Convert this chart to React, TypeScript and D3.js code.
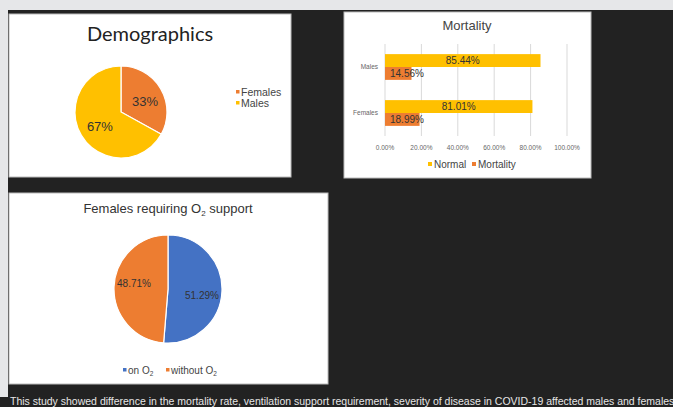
import React from 'react'
import * as d3 from 'd3'

// Demographics pie
const demoLabels = ['Females', 'Males']
const demoValues = [33, 67]

// Mortality bars
const mortCategories = ['Males', 'Females']
const mortSeries = ['Normal', 'Mortality']
const normalValues = [85.44, 81.01]
const mortalityValues = [14.56, 18.99]
const mortTicks = [0, 20, 40, 60, 80, 100]

// O2 support pie
const o2Labels = ['on O', 'without O']
const o2Values = [51.29, 48.71]

const caption =
  'This study showed difference in the mortality rate, ventilation support requirement, severity of disease in COVID-19 affected males and females'

const ORANGE = '#ED7D31'
const GOLD = '#FFC000'
const BLUE = '#4472C4'
const SANS = '"Liberation Sans", Arial, sans-serif'

const App: React.FC = () => {
  // --- pie 1
  const demoPie = d3.pie<number>().sort(null).value(d => d)(demoValues)
  const demoArc = d3.arc<d3.PieArcDatum<number>>().innerRadius(0).outerRadius(46)
  const demoLabelArc = d3.arc<d3.PieArcDatum<number>>().innerRadius(28).outerRadius(28)
  const demoColor = d3.scaleOrdinal<string, string>().domain(demoLabels).range([ORANGE, GOLD])

  // --- bars
  const x = d3.scaleLinear().domain([0, 100]).range([385, 567])
  const y = d3.scaleBand().domain(mortCategories).range([44, 136]).paddingInner(0.44).paddingOuter(0.22)
  const ySub = d3.scaleBand().domain(mortSeries).range([0, y.bandwidth()])
  const seriesColor = d3.scaleOrdinal<string, string>().domain(mortSeries).range([GOLD, ORANGE])
  const rows = mortCategories.map((c, i) => ({ cat: c, Normal: normalValues[i], Mortality: mortalityValues[i] }))

  // --- pie 2
  const o2Pie = d3.pie<number>().sort(null).value(d => d)(o2Values)
  const o2Arc = d3.arc<d3.PieArcDatum<number>>().innerRadius(0).outerRadius(54)
  const o2LabelArc = d3.arc<d3.PieArcDatum<number>>().innerRadius(34).outerRadius(34)
  const o2Color = d3.scaleOrdinal<string, string>().domain(o2Labels).range([BLUE, ORANGE])

  return (
    <svg
      width={673}
      height={407}
      style={{ position: 'absolute', left: 0, top: 0, display: 'block' }}
      fontFamily={SANS}
    >
      <rect x={0} y={0} width={673} height={407} fill="#222222" />
      <rect x={0} y={0} width={673} height={10} fill="#e6e7e9" />
      <rect x={0} y={0} width={8} height={397} fill="#e6e7e9" />

      {/* Demographics */}
      <rect x={9} y={14} width={282} height={163} fill="#fff" stroke="#bbb" strokeWidth={1} />
      <text x={150} y={41} textAnchor="middle" fontFamily="Lato, sans-serif" fontSize={20} fill="#222">
        Demographics
      </text>
      <g transform="translate(121,112)">
        {demoPie.map((d, i) => (
          <path key={i} d={demoArc(d) || ''} fill={demoColor(demoLabels[i])} stroke="#fff" strokeWidth={1.2} />
        ))}
        {demoPie.map((d, i) => {
          const [cx, cy] = demoLabelArc.centroid(d)
          return (
            <text key={i} x={cx + (i === 0 ? 0 : 3)} y={cy + (i === 0 ? 4 : 0)} textAnchor="middle" dominantBaseline="central" fontSize={13} fill="#333">
              {demoValues[i]}%
            </text>
          )
        })}
      </g>
      {demoLabels.map((l, i) => (
        <g key={l} transform={`translate(236,${92 + i * 11})`}>
          <rect x={0} y={-2} width={3.5} height={3.5} fill={demoColor(l)} />
          <text x={5} y={0} dominantBaseline="central" fontSize={10.5} fill="#444">{l}</text>
        </g>
      ))}

      {/* Mortality */}
      <rect x={344} y={12} width={247} height={166} fill="#fff" stroke="#bbb" strokeWidth={1} />
      <text x={467} y={30} textAnchor="middle" fontSize={13} fill="#444">Mortality</text>
      {mortTicks.map(t => (
        <g key={t}>
          <line x1={x(t)} x2={x(t)} y1={44} y2={136} stroke="#d9d9d9" strokeWidth={1} />
          <text x={x(t)} y={147} textAnchor="middle" dominantBaseline="central" fontSize={6.5} fill="#666">
            {t.toFixed(2)}%
          </text>
        </g>
      ))}
      {rows.map(r => (
        <g key={r.cat} transform={`translate(0,${y(r.cat)})`}>
          <text x={378} y={y.bandwidth() / 2} textAnchor="end" dominantBaseline="central" fontSize={6.5} fill="#666">
            {r.cat}
          </text>
          {mortSeries.map(s => {
            const v = (r as any)[s] as number
            const by = ySub(s) || 0
            return (
              <g key={s}>
                <rect x={x(0)} y={by} width={x(v) - x(0)} height={ySub.bandwidth()} fill={seriesColor(s)} />
                <text
                  x={s === 'Normal' ? (x(0) + x(v)) / 2 : x(0) + 5}
                  y={by + ySub.bandwidth() / 2}
                  textAnchor={s === 'Normal' ? 'middle' : 'start'}
                  dominantBaseline="central"
                  fontSize={10}
                  fill="#333"
                >
                  {v.toFixed(2)}%
                </text>
              </g>
            )
          })}
        </g>
      ))}
      {mortSeries.map((s, i) => (
        <g key={s} transform={`translate(${428 + i * 44},164)`}>
          <rect x={0} y={-2} width={4} height={4} fill={seriesColor(s)} />
          <text x={6} y={0} dominantBaseline="central" fontSize={10} fill="#444">{s}</text>
        </g>
      ))}

      {/* Females requiring O2 support */}
      <rect x={9} y={193} width={319} height={191} fill="#fff" stroke="#bbb" strokeWidth={1} />
      <text x={168} y={213} textAnchor="middle" fontSize={13} fill="#333">
        Females requiring O<tspan fontSize={8} dy={3}>2</tspan><tspan dy={-3}> support</tspan>
      </text>
      <g transform="translate(168,289)">
        {o2Pie.map((d, i) => (
          <path key={i} d={o2Arc(d) || ''} fill={o2Color(o2Labels[i])} stroke="#fff" strokeWidth={1.2} />
        ))}
        {o2Pie.map((d, i) => {
          const [cx, cy] = o2LabelArc.centroid(d)
          return (
            <text key={i} x={cx} y={cy + (i === 0 ? 5 : -4)} textAnchor="middle" dominantBaseline="central" fontSize={10} fill="#333">
              {o2Values[i].toFixed(2)}%
            </text>
          )
        })}
      </g>
      {o2Labels.map((l, i) => (
        <g key={l} transform={`translate(${123 + i * 43},370)`}>
          <rect x={0} y={-2} width={3.5} height={3.5} fill={o2Color(l)} />
          <text x={5} y={0} dominantBaseline="central" fontSize={10} fill="#444">
            {l}<tspan fontSize={6.5} dy={3}>2</tspan>
          </text>
        </g>
      ))}

      <text x={10} y={405} fontSize={10.5} fill="#e6e6e6">{caption}</text>
    </svg>
  )
}

export default App
